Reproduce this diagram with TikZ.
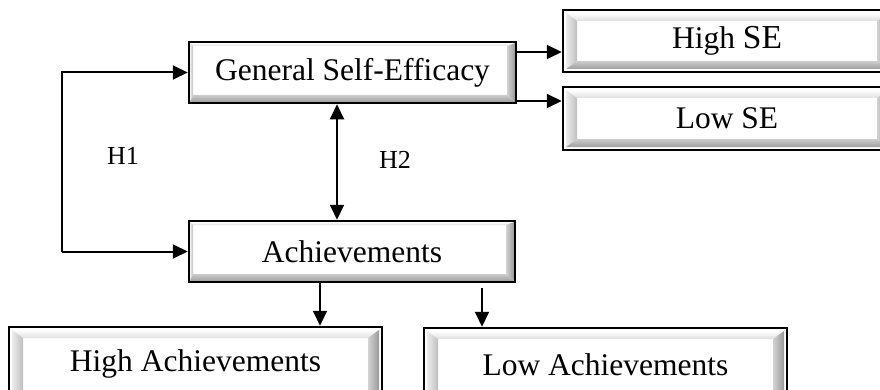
\documentclass[tikz,border=0pt]{standalone}
\usepackage{fontspec}
\setmainfont{Liberation Serif}
\usetikzlibrary{arrows.meta,calc}
\tikzset{
  bev/.style n args={5}{path picture={%
    \path let \p1=(path picture bounding box.south west),
              \p2=(path picture bounding box.north east) in
      coordinate (o1) at (\x1+#1pt,\y1+#1pt)
      coordinate (o2) at (\x2-#1pt,\y2-#1pt)
      coordinate (i1) at (\x1+#1pt+#2pt,\y1+#1pt+#5pt)
      coordinate (i2) at (\x2-#1pt-#3pt,\y2-#1pt-#4pt);
    \shade[top color=white,bottom color=gray!25] (o1 |- o2) -- (o2) -- (i2) -- (i1 |- i2) -- cycle;
    \shade[left color=gray!15,right color=gray!50] (o1 |- o2) -- (i1 |- i2) -- (i1) -- (o1) -- cycle;
    \shade[top color=gray!40,bottom color=gray!75] (o1) -- (i1) -- (i2 |- i1) -- (o2 |- o1) -- cycle;
    \shade[left color=gray!35,right color=gray!80] (o2 |- o1) -- (i2 |- i1) -- (i2) -- (o2) -- cycle;
  }},
  box/.style={draw=black,line width=2.5pt,fill=white,inner sep=0pt,
    font=\fontsize{31.5}{36}\selectfont},
  wide/.style={box,bev={3}{11}{11}{8}{8}},
  narrow/.style={box,bev={1}{3}{8}{3}{7}},
  arr/.style={line width=2pt,-{Triangle[length=15pt,width=14pt]}},
  arrr/.style={line width=2pt,{Triangle[length=15pt,width=14pt]}-{Triangle[length=15pt,width=14pt]}},
  lab/.style={font=\fontsize{26}{30}\selectfont}
}
\begin{document}
\begin{tikzpicture}[x=1pt,y=1pt]
\useasboundingbox (0,0) rectangle (880,389);
\clip (0,0) rectangle (880,389);
\fill[white] (0,0) rectangle (880,389);

\node[narrow,minimum width=327pt,minimum height=61pt] (GSE) at (352.5,316.5) {General Self-Efficacy};
\node[narrow,minimum width=326pt,minimum height=61pt] (ACH) at (352,137.5) {Achievements};
\node[wide,minimum width=328pt,minimum height=62pt] (HSE) at (727,348) {High {\fontsize{33.5}{36}\selectfont SE}};
\node[wide,minimum width=328pt,minimum height=63pt] (LSE) at (727,270.5) {Low SE};
\node[wide,minimum width=373pt,minimum height=74pt] (HA) at (195.5,25) {High Achievements};
\node[wide,minimum width=363pt,minimum height=74pt] (LA) at (605.5,24) {Low Achievements};

\coordinate (k) at (62,200);
\draw[arr] (k |- ACH.west) -- (k |- GSE.west) -- (GSE.west);
\draw[arr] (k |- ACH.west) -- (ACH.west);

\draw[arr] ([yshift=20.5pt]GSE.east) coordinate (a1) -- (a1 -| HSE.west);
\draw[arr] ([yshift=-28.5pt]GSE.east) coordinate (a2) -- (a2 -| LSE.west);

\draw[arrr] ([xshift=-15.5pt]GSE.south) coordinate (d1) -- (d1 |- ACH.north);

\draw[arr] ([xshift=-32pt]ACH.south) coordinate (b1) -- (b1 |- HA.north);
\draw[arr] ([xshift=130pt,yshift=-5pt]ACH.south) coordinate (b2) -- (b2 |- LA.north);

\node[lab] (H1) at (123,233) {H1};
\node[lab] (H2) at (395,229) {H2};
\end{tikzpicture}
\end{document}
